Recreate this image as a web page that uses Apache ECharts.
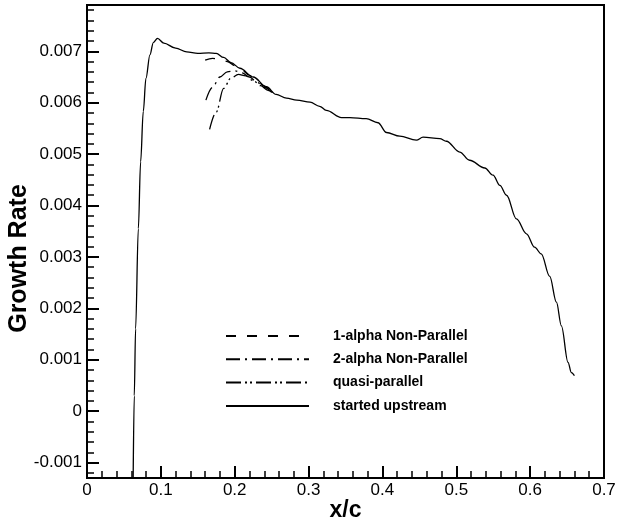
<!DOCTYPE html>
<html>
<head>
<meta charset="utf-8">
<script src="https://cdn.jsdelivr.net/npm/echarts@6/dist/echarts.min.js"></script>
<style>html,body{margin:0;padding:0;background:#fff}#c{width:618px;height:520px}</style>
</head>
<body>
<div id="c"></div>
<script>
// ---- data ----
var startedUpstream = [
  [0.0625,-0.0013],[0.0640,0.0003],[0.0658,0.0016],[0.0695,0.00355],[0.0726,0.00485],
  [0.0762,0.00583],[0.0798,0.00647],[0.0852,0.00693],[0.0898,0.00717],[0.0955,0.00725],
  [0.1040,0.00716],[0.1200,0.00706],[0.1350,0.00699],[0.1500,0.00696],[0.1650,0.00697],
  [0.1750,0.00696],[0.1850,0.00688],[0.1950,0.00678],[0.2070,0.00667],[0.2250,0.00650],
  [0.2430,0.00631],[0.2560,0.00616],[0.2700,0.00609],[0.2840,0.00605],[0.3020,0.00601],
  [0.3150,0.00593],[0.3240,0.00585],[0.3446,0.00571],[0.3560,0.00571],[0.3780,0.00569],
  [0.3940,0.00561],[0.4055,0.00542],[0.4235,0.00535],[0.4460,0.00527],[0.4550,0.00533],
  [0.4777,0.00530],[0.4867,0.00525],[0.5047,0.00504],[0.5180,0.00488],[0.5386,0.00473],
  [0.5498,0.00459],[0.5590,0.00439],[0.5680,0.00420],[0.5815,0.00374],[0.5950,0.00345],
  [0.6060,0.00319],[0.6150,0.00306],[0.6265,0.00262],[0.6356,0.00212],[0.6423,0.00166],
  [0.6513,0.00095],[0.6558,0.00075],[0.6600,0.00069]
];
var oneAlpha = [
  [0.160,0.00683],[0.170,0.00686],[0.180,0.00685],[0.190,0.00680],[0.200,0.00672],
  [0.210,0.00663],[0.220,0.00653],[0.230,0.00642],[0.240,0.00632],[0.250,0.00621]
];
var twoAlpha = [
  [0.161,0.00605],[0.170,0.00630],[0.180,0.00650],[0.190,0.00660],[0.200,0.00662],
  [0.210,0.00658],[0.220,0.00650],[0.230,0.00640],[0.240,0.00630],[0.250,0.00620]
];
var quasiParallel = [
  [0.166,0.00548],[0.175,0.00582],[0.185,0.00628],[0.195,0.00648],[0.205,0.00655],
  [0.215,0.00652],[0.225,0.00643],[0.235,0.00633],[0.245,0.00624],[0.255,0.00616]
];
var seriesNames = ['1-alpha Non-Parallel','2-alpha Non-Parallel','quasi-parallel','started upstream'];
var yMajorTicks = [-0.001,0,0.001,0.002,0.003,0.004,0.005,0.006,0.007];
var xAxisName = 'x/c';
var yAxisName = 'Growth Rate';

// ---- chart ----
var yMinorTicks = [];
for (var i = -6; i <= 39; i++) { if (i % 5 !== 0) yMinorTicks.push(i * 0.0002); }
var FONT = '"Liberation Sans", Arial, sans-serif';
var chart = echarts.init(document.getElementById('c'), null, {renderer:'canvas'});
function lineSeries(name, data, dash) {
  return {
    name: name, type: 'line', data: data, showSymbol: false, symbol: 'none',
    smooth: 0.35, smoothMonotone: 'x', animation: false,
    itemStyle: {color: '#000', opacity: 0},
    lineStyle: {color: '#000', width: 1.3, type: dash, opacity: 1}
  };
}
chart.setOption({
  animation: false,
  backgroundColor: '#fff',
  grid: {left: 87, top: 5, right: 14, bottom: 42, show: true, borderColor: '#000', borderWidth: 2,
         containLabel: false, outerBoundsMode: 'none'},
  legend: {
    orient: 'vertical', left: 225, top: 329, padding: 0, itemWidth: 83, itemHeight: 14, itemGap: 9.3,
    data: seriesNames,
    itemStyle: {opacity: 0},
    textStyle: {fontFamily: FONT, fontSize: 14, fontWeight: 'bold', color: '#000', padding: [0,0,0,19]}
  },
  xAxis: {
    type: 'value', min: 0, max: 0.7, interval: 0.1,
    name: xAxisName, nameLocation: 'middle', nameGap: 21, nameMoveOverlap: false,
    nameTextStyle: {fontFamily: FONT, fontSize: 23, fontWeight: 'bold', color: '#000'},
    axisLine: {show: true, onZero: false, lineStyle: {color: '#000', width: 2}},
    axisTick: {show: true, inside: true, length: 12, lineStyle: {color: '#000', width: 2}},
    minorTick: {show: true, splitNumber: 5, length: 7, lineStyle: {color: '#000', width: 1.5}},
    splitLine: {show: false},
    axisLabel: {fontFamily: FONT, fontSize: 17, color: '#000', margin: 4,
      formatter: function (v) { return v === 0 ? '0' : (+v).toFixed(1); }}
  },
  yAxis: [{
    type: 'value', min: -0.0013, max: 0.0079,
    name: yAxisName, nameLocation: 'middle', nameGap: 55, nameRotate: 90, nameMoveOverlap: false,
    nameTextStyle: {fontFamily: FONT, fontSize: 25, fontWeight: 'bold', color: '#000', padding: [0, 34, 0, 0]},
    axisLine: {show: true, onZero: false, lineStyle: {color: '#000', width: 2}},
    axisTick: {show: true, inside: true, length: 12, customValues: yMajorTicks, lineStyle: {color: '#000', width: 2}},
    splitLine: {show: false},
    axisLabel: {fontFamily: FONT, fontSize: 17, color: '#000', margin: 5, customValues: yMajorTicks,
      formatter: function (v) { return Math.abs(v) < 1e-12 ? '0' : (+v).toFixed(3); }}
  }, {
    type: 'value', min: -0.0013, max: 0.0079, position: 'left', offset: 0,
    axisLine: {show: false, onZero: false},
    axisTick: {show: true, inside: true, length: 7, customValues: yMinorTicks, lineStyle: {color: '#000', width: 1.5}},
    axisLabel: {show: false},
    splitLine: {show: false}
  }],
  series: [
    lineSeries(seriesNames[0], oneAlpha, [10, 11]),
    lineSeries(seriesNames[1], twoAlpha, [14, 5, 2, 5]),
    lineSeries(seriesNames[2], quasiParallel, [15, 4, 2, 3, 2, 4]),
    lineSeries(seriesNames[3], startedUpstream, 'solid')
  ]
});
</script>
</body>
</html>
